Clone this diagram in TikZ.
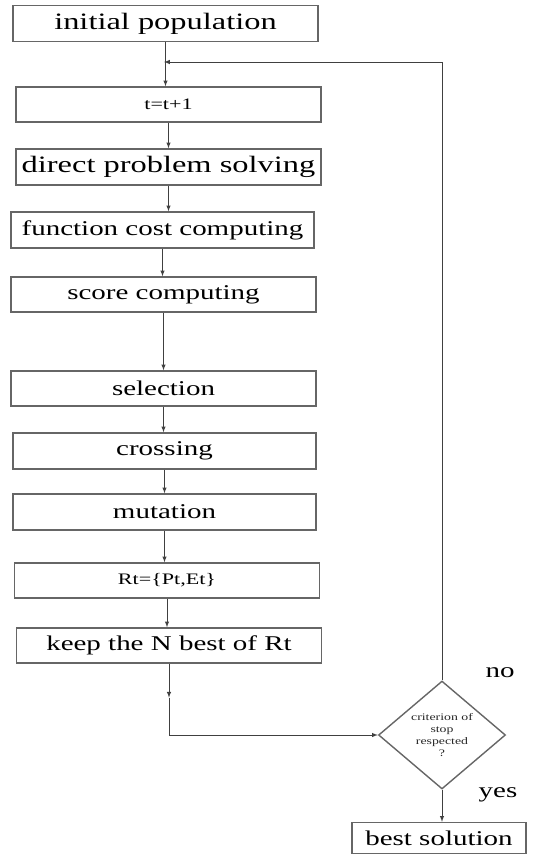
\documentclass[tikz,border=0pt]{standalone}
\usepackage{fontspec}
\setmainfont{Liberation Serif}[FakeStretch=1.38]
\usetikzlibrary{shapes.geometric}
\usetikzlibrary{arrows}
\tikzset{>=latex}
\tikzset{%
  stage/.style={draw=black!60, line width=1.4pt, minimum width=305pt, minimum height=36pt,
    inner sep=0pt, text=black, font=\fontsize{21}{24}\selectfont},
  bigtext/.style={font=\fontsize{23.5}{26}\selectfont},
  smalltext/.style={font=\fontsize{16}{18}\selectfont},
  test/.style={draw=black!60, line width=1.4pt, shape=diamond, aspect=1.18,
    minimum width=127pt, minimum height=108pt, inner sep=0pt, align=center,
    text=black!85, font=\fontsize{10}{12}\selectfont},
  answer/.style={anchor=base, text=black, font=\fontsize{21}{24}\selectfont},
  flow/.style={->, draw=black!75, line width=1pt},
}

\begin{document}
\begin{tikzpicture}[x=1pt,y=-1pt]

  \useasboundingbox (0,0) rectangle (534,854);

  % main column of stages
  \node[stage, bigtext] (init) at (165.5,23.5) {initial population};
  \node[stage, smalltext, minimum height=35pt] (incr) at (168.5,104.5) {t=t+1};
  \node[stage, bigtext] (direct) at (168.5,167) {direct problem solving};
  \node[stage, minimum width=303pt] (cost) at (162.5,230) {function cost computing};
  \node[stage, minimum height=35pt] (score) at (163.5,294.5) {score computing};
  \node[stage, minimum height=35pt] (select) at (163.5,388.5) {selection};
  \node[stage, minimum width=303pt] (cross) at (164.5,451) {crossing};
  \node[stage, minimum width=303pt] (mutate) at (164.5,512) {mutation};
  \node[stage, smalltext, minimum height=35pt] (union) at (167,580.5) {Rt=\{Pt,Et\}};
  \node[stage, minimum height=35pt] (keep) at (169,645.5) {keep the N best of Rt};

  % stop test and its answers
  \node[test] (crit) at (442,735) {criterion of\\stop\\respected\\?};
  \node[stage, minimum width=174pt, minimum height=31pt] (best) at (439,838) {best solution};
  \node[answer] (no) at (500,677) {no};
  \node[answer] (yes) at (498,797) {yes};

  % helper coordinates for the bent connectors
  \coordinate (loop) at (164,62);
  \coordinate (kmid) at ([yshift=-34pt]keep.south);

  % arrows down the column
  \draw[flow] (init.south) -- (init.south |- incr.north);
  \draw[flow] (incr.south) -- (incr.south |- direct.north);
  \draw[flow] (direct.south) -- (direct.south |- cost.north);
  \draw[flow] (cost.south) -- (cost.south |- score.north);
  \draw[flow] (score.south) -- (score.south |- select.north);
  \draw[flow] (select.south) -- (select.south |- cross.north);
  \draw[flow] (cross.south) -- (cross.south |- mutate.north);
  \draw[flow] (mutate.south) -- (mutate.south |- union.north);
  \draw[flow] (union.south) -- (union.south |- keep.north);

  % into the test, back round the loop, and out
  \draw[flow] (keep.south) -- (kmid);
  \draw[flow] (kmid) |- (crit.west);
  \draw[flow] (crit.north) |- (loop);
  \draw[flow] (crit.south) -- (crit.south |- best.north);

\end{tikzpicture}
\end{document}
